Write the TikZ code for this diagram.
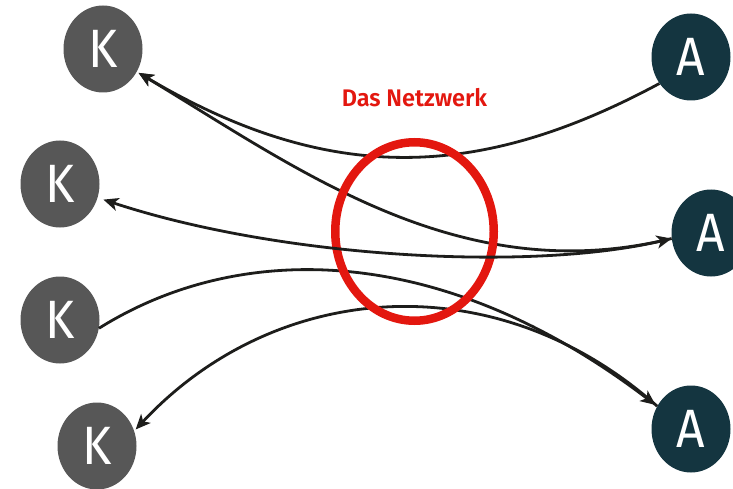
\documentclass[tikz,border=0pt]{standalone}
\usepackage{fontspec}
\setmainfont{Fira Sans}
\newfontfamily\labelfont{Fira Sans SemiBold}
\usetikzlibrary{shapes.geometric,arrows.meta}
\definecolor{kgrey}{HTML}{575757}
\definecolor{ateal}{HTML}{143540}
\definecolor{netred}{HTML}{E3170F}
\definecolor{linedark}{HTML}{1D1D1B}
\tikzset{
  party/.style={ellipse,inner sep=0pt,minimum width=79pt,minimum height=87pt,text=white,font=\fontsize{54}{54}\selectfont},
  kparty/.style={party,fill=kgrey},
  aparty/.style={party,fill=ateal},
  link/.style={draw=linedark,line width=2.8pt},
  tip/.style={-{Stealth[length=15pt,width=13pt,inset=4pt]},shorten >=2pt},
  bothtips/.style={{Stealth[length=15pt,width=13pt,inset=4pt]}-{Stealth[length=15pt,width=13pt,inset=4pt]},shorten <=6pt},
  ring/.style={ellipse,draw=netred,line width=8.5pt,inner sep=0pt,minimum width=158.5pt,minimum height=178.5pt},
  netlabel/.style={text=netred,font=\labelfont\fontsize{24}{24}\selectfont,inner sep=0pt}
}
\begin{document}
\begin{tikzpicture}[x=1pt,y=-1pt]
\useasboundingbox (0,0) rectangle (733,489);
\node[kparty] (K1) at (103,49) {\scalebox{0.92}[1]{K}};
\node[kparty] (K2) at (60,184) {\scalebox{0.92}[1]{K}};
\node[kparty] (K3) at (60,320) {\scalebox{0.92}[1]{K}};
\node[kparty] (K4) at (97,446) {\scalebox{0.92}[1]{K}};
\node[aparty] (A1) at (691,57) {\scalebox{0.92}[1]{A}};
\node[aparty] (A2) at (711,233) {\scalebox{0.92}[1]{A}};
\node[aparty] (A3) at (691,429) {\scalebox{0.92}[1]{A}};
\node[netlabel] (title) at (414.5,98) {\scalebox{0.98}[1]{Das Netzwerk}};
\draw[link,tip] (A1.220) .. controls (480,180) and (330,186) .. (K1.-34);
\draw[link,tip] (A2.188) .. controls (460,290) and (300,170) .. (K1.-34);
\draw[link,tip] (K3.-12) .. controls (240,240) and (442,242) .. (A3.146);
\draw[link,tip] (A3.146) .. controls (495,262) and (275,280) .. (K4.22);
\node[ring] (net) at (414.5,231.5) {};
\draw[link,bothtips] (K2.-20) .. controls (280,258) and (530,272) .. (A2.188);
\end{tikzpicture}
\end{document}
